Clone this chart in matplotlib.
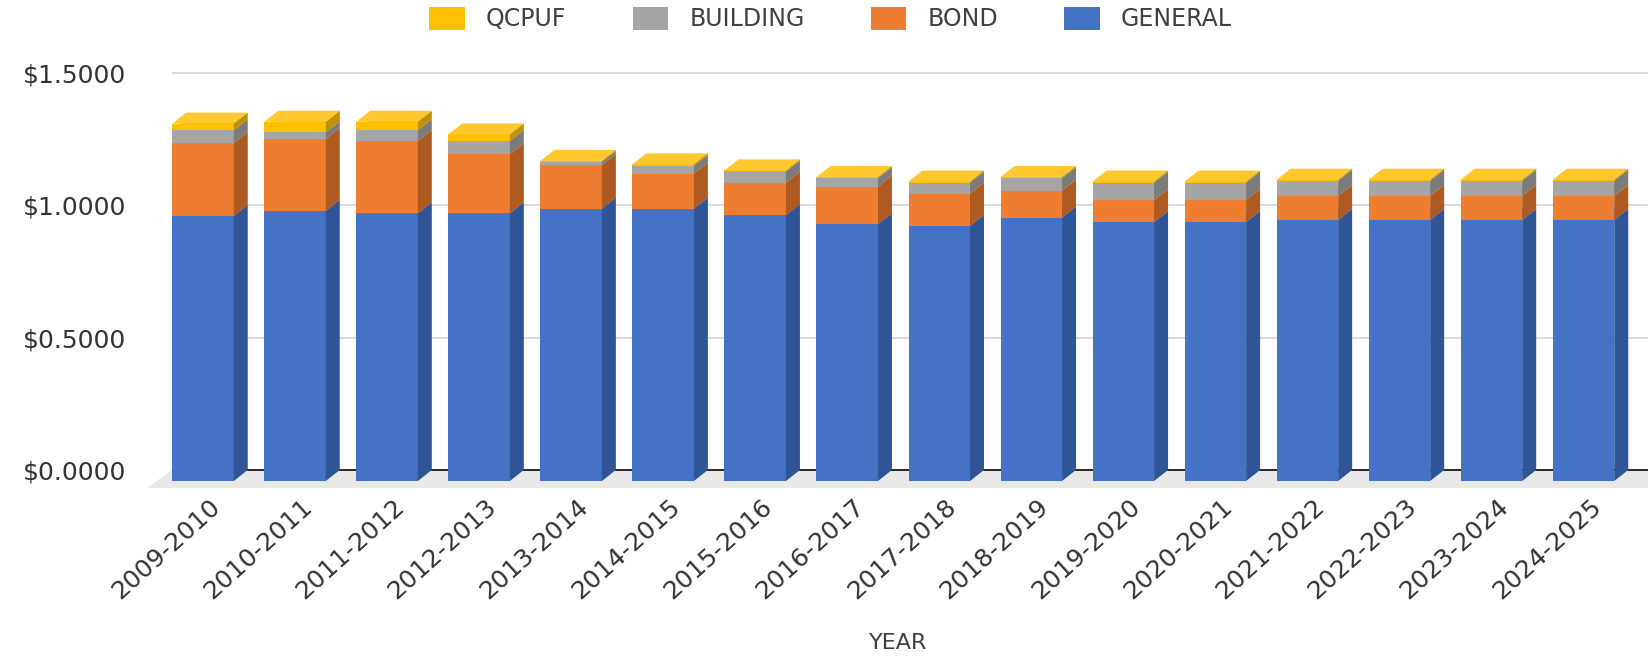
import numpy as np
import matplotlib
matplotlib.use('Agg')
import matplotlib.pyplot as plt
from matplotlib.patches import Polygon, Patch

# tax rate components per school year
years = ['2009-2010', '2010-2011', '2011-2012', '2012-2013', '2013-2014',
         '2014-2015', '2015-2016', '2016-2017', '2017-2018', '2018-2019',
         '2019-2020', '2020-2021', '2021-2022', '2022-2023', '2023-2024',
         '2024-2025']
general = [1.001, 1.020, 1.011, 1.011, 1.029, 1.029, 1.004, 0.970,
           0.963, 0.995, 0.978, 0.978, 0.986, 0.986, 0.986, 0.986]
bond = [0.275, 0.273, 0.273, 0.223, 0.164, 0.132, 0.123, 0.142,
        0.122, 0.101, 0.083, 0.083, 0.091, 0.091, 0.091, 0.091]
building = [0.049, 0.024, 0.041, 0.050, 0.012, 0.029, 0.042, 0.032,
            0.042, 0.048, 0.066, 0.066, 0.057, 0.057, 0.057, 0.057]
qcpuf = [0.025, 0.040, 0.032, 0.025, 0.004, 0.006, 0.004, 0.004,
         0.004, 0.004, 0.004, 0.004, 0.004, 0.004, 0.004, 0.004]

yticks = [0.0, 0.5, 1.0, 1.5]
ytick_labels = ['$0.0000', '$0.5000', '$1.0000', '$1.5000']

# (values, front, side, top) from bottom to top of the stack
series = [
    (general, '#4472C4', '#2F5597', '#5B87D6'),
    (bond, '#ED7D31', '#AE5A21', '#F28E48'),
    (building, '#A5A5A5', '#7B7B7B', '#B4B4B4'),
    (qcpuf, '#FFC000', '#BF9000', '#FFC82E'),
]

fig = plt.figure(figsize=(16.48, 6.56), dpi=100)
ax = fig.add_axes([0.08495, 0.2561, 0.9150, 0.6524])

w = 0.668    # front face width
dx = 0.152   # depth offset in x (bar units)
dy = 0.0416  # depth offset in y (value units)

# floor
ax.add_patch(Polygon([(-0.608, -0.027), (17, -0.027), (17, dy), (-0.337, dy)],
                     closed=True, facecolor='#e9e9e9', lw=0, zorder=1))

# back wall gridlines
ax.hlines([v + dy for v in yticks[1:]], -0.337, 17, color='#d9d9d9', lw=1.4, zorder=2)
ax.hlines([dy], -0.337, 17, color='#262626', lw=1.4, zorder=2)

x = np.arange(len(years))
bottom = np.zeros(len(years))
for vals, front, side, top in series:
    vals = np.array(vals)
    ax.bar(x, vals, w, bottom=bottom, color=front, linewidth=0, zorder=3)
    for xi, b, v in zip(x, bottom, vals):
        l = xi - w / 2
        r = xi + w / 2
        t = b + v
        ax.add_patch(Polygon([(r, b), (r + dx, b + dy), (r + dx, t + dy), (r, t)],
                             closed=True, facecolor=side, lw=0, zorder=3))
        ax.add_patch(Polygon([(l, t), (r, t), (r + dx, t + dy), (l + dx, t + dy)],
                             closed=True, facecolor=top, lw=0, zorder=3))
    bottom += vals

ax.set_xlim(-0.6846, 15.70)
ax.set_ylim(-0.0264, 1.590)

for s in ax.spines.values():
    s.set_visible(False)

ax.set_yticks([v + dy for v in yticks])
ax.set_yticklabels(ytick_labels)
ax.set_xticks(x + dx)
ax.set_xticklabels(years)
ax.tick_params(axis='both', length=0, labelsize=18, labelcolor='#333333')
ax.tick_params(axis='y', pad=10)
ax.tick_params(axis='x', pad=11)
plt.setp(ax.get_xticklabels(), rotation=42, ha='right', va='center',
         rotation_mode='anchor')

ax.set_xlabel('YEAR', fontsize=16, color='#404040')
ax.xaxis.set_label_coords(0.5027, -0.362)
ax.xaxis.label.set_va('center')

handles = [Patch(facecolor='#FFC000'), Patch(facecolor='#A5A5A5'),
           Patch(facecolor='#ED7D31'), Patch(facecolor='#4472C4')]
labels = ['QCPUF', 'BUILDING', 'BOND', 'GENERAL']
leg = fig.legend(handles, labels, loc='center', bbox_to_anchor=(0.504, 0.971),
                 ncol=4, frameon=False, fontsize=17, handlelength=1.5,
                 handleheight=1.15, handletextpad=0.9, columnspacing=2.8)
for t in leg.get_texts():
    t.set_color('#404040')

fig.savefig('out.png', dpi=100)
